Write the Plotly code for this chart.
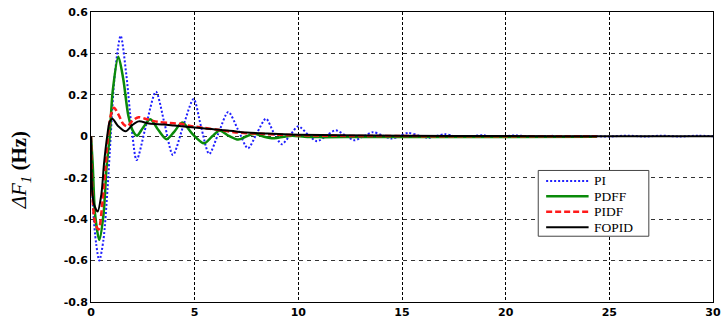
import plotly.graph_objects as go

# Frequency deviation of area 1 after a load step, four controllers
t_pi = [0, 0.1, 0.25, 0.4, 0.6, 0.8, 0.95, 1.15, 1.43, 1.7, 1.95, 2.2, 2.65, 3.13,
        3.55, 3.95, 4.45, 4.95, 5.3, 5.7, 6.15, 6.62, 7.1, 7.57, 8.0, 8.44, 8.8,
        9.2, 9.6, 10.0, 10.45, 10.9, 11.35, 11.8, 12.25, 12.7, 13.15, 13.6, 14.05,
        14.5, 14.9, 15.3, 15.8, 16.25, 16.65, 17.05, 17.5, 17.95, 18.45, 18.9,
        19.4, 19.9, 20.5, 21.3, 22.2, 23.0, 24.0, 25.0, 25.9, 26.7, 27.5, 28.4,
        29.3, 30.0]
df_pi = [0, -0.35, -0.52, -0.60, -0.50, -0.25, 0.0, 0.30, 0.485, 0.30, 0.05,
         -0.115, 0.05, 0.215, 0.06, -0.09, 0.05, 0.18, 0.05, -0.085, 0.015, 0.117,
         0.03, -0.058, 0.015, 0.085, 0.02, -0.038, 0.005, 0.048, 0.01, -0.024,
         0.003, 0.029, 0.005, -0.019, 0.0, 0.02, 0.004, -0.011, 0.002, 0.016,
         0.004, -0.007, 0.001, 0.01, 0.002, -0.004, 0.001, 0.005, -0.003, 0.0,
         0.004, -0.002, 0.002, -0.002, 0.001, -0.001, 0.003, -0.001, 0.003,
         -0.001, 0.003, 0.0]

t_pdff = [0, 0.08, 0.2, 0.4, 0.6, 0.75, 0.9, 1.05, 1.32, 1.55, 1.8, 2.0, 2.22,
          2.5, 2.86, 3.25, 3.65, 4.0, 4.4, 4.9, 5.45, 5.85, 6.2, 6.65, 7.1, 7.5,
          7.9, 8.35, 8.8, 9.3, 9.7, 10.3, 11.0, 13.0, 16.0, 20.0, 24.4]
df_pdff = [0, -0.13, -0.38, -0.50, -0.38, -0.15, 0.0, 0.22, 0.384, 0.28, 0.10,
           0.03, 0.003, 0.04, 0.082, 0.03, -0.014, 0.02, 0.066, 0.01, -0.034,
           0.0, 0.028, 0.002, -0.016, 0.0, 0.012, -0.002, -0.01, -0.002, 0.003,
           -0.002, -0.004, -0.003, -0.003, -0.003, -0.002]

t_pidf = [0, 0.08, 0.2, 0.37, 0.55, 0.7, 0.82, 0.95, 1.11, 1.35, 1.55, 1.75, 2.0,
          2.3, 2.7, 3.2, 3.8, 4.3, 4.8, 5.5, 6.2, 6.9, 7.5, 8.2, 9.0, 10.0, 12.0,
          15.0, 20.0, 24.4]
df_pidf = [0, -0.30, -0.42, -0.45, -0.32, -0.15, 0.0, 0.10, 0.138, 0.10, 0.06,
           0.048, 0.075, 0.092, 0.082, 0.07, 0.064, 0.06, 0.05, 0.04, 0.03, 0.02,
           0.015, 0.012, 0.008, 0.005, 0.002, 0.001, 0.0, 0.0]

t_fopid = [0, 0.02, 0.06, 0.15, 0.32, 0.5, 0.63, 0.78, 0.9, 1.03, 1.3, 1.67, 2.0,
           2.3, 2.8, 3.5, 4.0, 4.7, 5.5, 6.6, 7.5, 8.5, 10.0, 12.0, 15.0, 20.0,
           25.0, 30.0]
df_fopid = [0, -0.15, -0.27, -0.33, -0.363, -0.28, -0.13, 0.0, 0.07, 0.085, 0.05,
            0.024, 0.055, 0.072, 0.062, 0.057, 0.052, 0.045, 0.037, 0.028, 0.018,
            0.013, 0.008, 0.005, 0.003, 0.001, 0.0005, 0.0]

x_ticks = [0, 5, 10, 15, 20, 25, 30]
y_ticks = [-0.8, -0.6, -0.4, -0.2, 0, 0.2, 0.4, 0.6]

series = [
    ("PI", t_pi, df_pi, "#1f1fff", "2px,2px", 2.0),
    ("PDFF", t_pdff, df_pdff, "#0a8a0a", "solid", 2.5),
    ("PIDF", t_pidf, df_pidf, "#ff1a1a", "6px,3px", 2.5),
    ("FOPID", t_fopid, df_fopid, "#000000", "solid", 2.0),
]

# plot area in pixels, used to place the legend box in paper coordinates
PX_L, PX_R, PX_T, PX_B = 91, 721, 12, 303


def px_x(p):
    return (p - PX_L) / (PX_R - PX_L)


def px_y(p):
    return (PX_B - p) / (PX_B - PX_T)


fig = go.Figure()
for name, t, y, color, dash, width in series:
    fig.add_trace(go.Scatter(
        x=t, y=y, name=name, mode="lines", showlegend=False,
        line=dict(color=color, dash=dash, width=width, shape="spline", smoothing=0.8),
    ))

# compact boxed legend
shapes = [dict(type="rect", xref="paper", yref="paper",
               x0=px_x(544), x1=px_x(656), y0=px_y(237), y1=px_y(171),
               fillcolor="white", line=dict(color="#444", width=1), layer="above")]
annotations = []
row_y = [181.5, 197, 212.5, 228]
for (name, _, _, color, dash, width), ry in zip(series, row_y):
    shapes.append(dict(type="line", xref="paper", yref="paper",
                       x0=px_x(552), x1=px_x(595), y0=px_y(ry), y1=px_y(ry),
                       line=dict(color=color, dash=dash, width=width), layer="above"))
    annotations.append(dict(text=name, xref="paper", yref="paper",
                            x=px_x(599), y=px_y(ry), xanchor="left", yanchor="middle",
                            borderpad=0, showarrow=False,
                            font=dict(family="Liberation Serif", size=13.5, color="black")))

annotations.append(dict(
    text="<i>ΔF<sub>1</sub></i> <b>(Hz)</b>",
    xref="paper", yref="paper", x=px_x(20), y=px_y(171),
    xanchor="center", yanchor="middle", textangle=-90, showarrow=False,
    font=dict(family="Liberation Serif", size=21, color="black"),
))

tick_font = dict(family="DejaVu Sans", size=11, color="black", weight="bold")

fig.update_layout(
    width=722, height=320,
    margin=dict(l=PX_L, r=722 - PX_R, t=PX_T, b=320 - PX_B),
    paper_bgcolor="white", plot_bgcolor="white",
    showlegend=False,
    xaxis=dict(
        range=[0, 30], tickvals=x_ticks, ticktext=[str(v) for v in x_ticks],
        showgrid=True, gridcolor="black", gridwidth=1, griddash="3px,2px",
        showline=True, linecolor="black", linewidth=1, mirror=True,
        zeroline=False, ticks="", tickfont=tick_font, ticklabeloverflow="allow",
    ),
    yaxis=dict(
        range=[-0.8, 0.6], tickvals=y_ticks,
        ticktext=[("%g" % v) for v in y_ticks],
        showgrid=True, gridcolor="#333", gridwidth=1, griddash="4px,4px",
        showline=True, linecolor="black", linewidth=1, mirror=True,
        zeroline=False, ticks="", tickfont=tick_font,
    ),
    shapes=shapes,
    annotations=annotations,
)

fig.write_html("out.html")
